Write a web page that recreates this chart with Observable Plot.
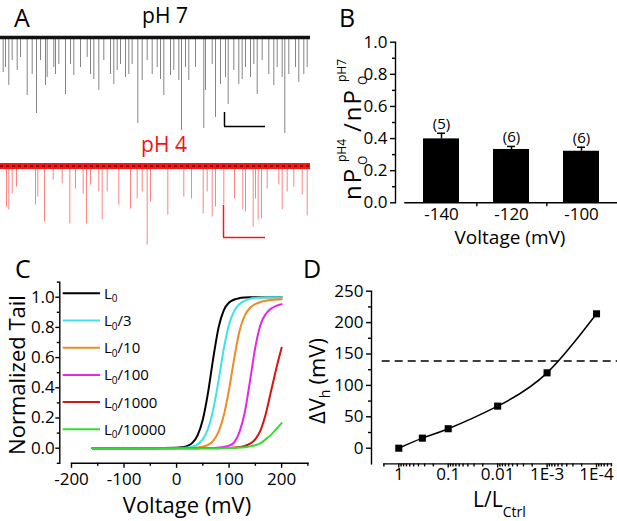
<!DOCTYPE html>
<html><head><meta charset="utf-8">
<script src="https://cdn.jsdelivr.net/npm/d3@7"></script>
<script src="https://cdn.jsdelivr.net/npm/@observablehq/plot@0.6"></script>
<style>
body{margin:0;background:#fff;}
#fig{position:relative;width:617px;height:521px;overflow:hidden;font-family:"Open Sans",sans-serif;background:#fff;}
</style></head><body><div id="fig"></div>
<script>
// ---------- Panel A: single-channel traces (time in ms, current in pA)
const t7 = [2.7,5,8.3,11.7,16.7,20,26.7,31.7,36,40,45,46.7,53.3,55,58.3,65,70,73.3,80,86.7,90,93.3,98.3,103.3,110,113.3,116.7,120,125,128.3,131.7,137.3,141.7,146.7,151.7,156.7,160,163.3,170,173.3,178.3,181,185,188.3,195,203.3,205,211.7,215,220,225,227.7,233.3,238.3,241.7,245,250,253.3,256.7,261.7,268.3,273.3,276.7,281.7,284.3,288.3,295,298.3,303.3,306.7];
const amp7 = [-35,-30,-48,-23,-33,-20,-58,-37,-76,-23,-48,-40,-30,-37,-27,-57,-27,-38,-30,-20,-37,-42,-53,-23,-37,-47,-33,-27,-40,-37,-27,-86,-43,-23,-37,-30,-42,-58,-38,-33,-43,-93,-30,-43,-30,-91,-53,-27,-80,-47,-40,-67,-33,-47,-42,-30,-40,-27,-57,-23,-37,-48,-30,-40,-96,-37,-30,-45,-37,-30];
const t4 = [6,8.3,11.7,16,35,37.3,44,52.7,61.7,69.3,75,82.7,86,90,98.3,101.7,106.7,118.3,130,136.7,141.7,146.7,150,167.3,183.3,191,202.7,206.7,211.7,215,223.3,234,242.3,245,252.7,255,257.7,261,266.7,278.3,281.7,286.7,293.3,301.7,306.7];
const amp4 = [-41,-44,-28,-21,-39,-31,-56,-14,-18,-58,-23,-28,-58,-19,-26,-54,-26,-39,-43,-33,-26,-79,-36,-49,-31,-33,-48,-26,-51,-41,-39,-33,-44,-46,-61,-33,-54,-53,-23,-19,-44,-26,-21,-29,-50];
const bar7 = {t0: 224, t1: 265, top: -75, bottom: -89};
const bar4 = {t0: 223, t1: 265, top: -39.5, bottom: -71.5};

// ---------- Panel B
const bVolt = ["-140", "-120", "-100"];
const bRatio = [0.398, 0.332, 0.321];
const bErr = [0.035, 0.019, 0.025];
const bN = [5, 6, 6];

// ---------- Panel C (normalized tail vs voltage)
const cVolt = [-160,-100,-50,0,10,20,30,40,50,60,70,80,90,100,110,120,130,140,150,160,170,180,190,200];
const cL0     = [0,0,0,0.003,0.006,0.014,0.035,0.085,0.19,0.37,0.6,0.8,0.915,0.965,0.985,0.994,0.998,1,1,1,1,1,1,1];
const cL0_3   = [0,0,0,0.001,0.002,0.004,0.01,0.025,0.06,0.13,0.26,0.45,0.66,0.82,0.91,0.955,0.978,0.99,0.995,0.998,1,1,1,1];
const cL0_10  = [0,0,0,0,0.001,0.001,0.002,0.005,0.01,0.022,0.05,0.11,0.22,0.39,0.6,0.78,0.88,0.93,0.955,0.968,0.976,0.981,0.984,0.986];
const cL0_100 = [0,0,0,0,0,0,0,0,0.001,0.001,0.002,0.004,0.008,0.017,0.04,0.11,0.24,0.45,0.67,0.82,0.89,0.925,0.943,0.953];
const cL0_1000 = [0,0,0,0,0,0,0,0,0,0,0,0,0.001,0.002,0.004,0.008,0.015,0.03,0.06,0.12,0.23,0.38,0.53,0.665];
const cL0_10000 = [0,0,0,0,0,0,0,0,0,0,0,0,0,0.001,0.002,0.004,0.007,0.012,0.02,0.034,0.06,0.09,0.127,0.166];
const cSeries = [cL0, cL0_3, cL0_10, cL0_100, cL0_1000, cL0_10000];
const cDivisor = ["", "/3", "/10", "/100", "/1000", "/10000"];
const cColors = ["#000000", "#3fe3e3", "#f08a24", "#e429e4", "#d8140e", "#33dd33"];

// ---------- Panel D
const dRatio = [1, 1/3, 0.1, 0.01, 0.001, 0.0001];
const dShift = [0, 16, 31, 67, 120, 214];
const dThreshold = 139;
const dTickValues = [1, 0.1, 0.01, 1e-3, 1e-4];
const dTickLabels = ["1", "0.1", "0.01", "1E-3", "1E-4"];

// ---------- helpers
const fig = document.getElementById("fig");
function put(node, left, top) {
  node.style.position = "absolute";
  node.style.left = left + "px";
  node.style.top = top + "px";
  node.style.maxWidth = "none";
  fig.appendChild(node);
}
const baseStyle = {fontFamily: "'Open Sans', sans-serif", fontSize: "17px", color: "black", background: "transparent", overflow: "visible"};
const AW = 1.4; // axis line width

// ---------- Panel A plots
const d7 = t7.map((t, i) => ({t, a: amp7[i]}));
const d4 = t4.map((t, i) => ({t, a: amp4[i]}));
put(Plot.plot({
  width: 310, height: 110, margin: 0, style: baseStyle,
  x: {domain: [0, 310], axis: null}, y: {domain: [-101, 9], axis: null},
  marks: [
    Plot.ruleX(d7, {x: "t", y1: () => 0, y2: "a", stroke: "#333", strokeOpacity: 0.6, strokeWidth: 1}),
    Plot.ruleY([0], {stroke: "#111", strokeWidth: 3.5}),
    Plot.ruleX([bar7], {x: "t0", y1: "top", y2: "bottom", stroke: "black", strokeWidth: 1.5}),
    Plot.ruleY([bar7], {y: "bottom", x1: "t0", x2: "t1", stroke: "black", strokeWidth: 1.5})
  ]
}), 0, 28);
put(Plot.plot({
  width: 310, height: 90, margin: 0, style: baseStyle,
  x: {domain: [0, 310], axis: null}, y: {domain: [-79.5, 10.5], axis: null},
  marks: [
    Plot.ruleX(d4, {x: "t", y1: () => 0, y2: "a", stroke: "#ff3030", strokeOpacity: 0.6, strokeWidth: 1}),
    Plot.ruleY([0], {stroke: "#ff1414", strokeWidth: 6}),
    Plot.ruleY([0], {stroke: "#000", strokeWidth: 1.2, strokeDasharray: "3,3"}),
    Plot.ruleX([bar4], {x: "t0", y1: "top", y2: "bottom", stroke: "#ff1414", strokeWidth: 1.5}),
    Plot.ruleY([bar4], {y: "bottom", x1: "t0", x2: "t1", stroke: "#ff1414", strokeWidth: 1.5})
  ]
}), 0, 155);

// ---------- Panel B plot
const bData = bVolt.map((v, i) => ({v, r: bRatio[i], e: bErr[i], n: bN[i]}));
const bW = 287, bML = 74.5, bMR = 0.5;
const bStep = (bW - bML - bMR) / bVolt.length;
put(Plot.plot({
  width: bW, height: 205, marginLeft: bML, marginRight: bMR, marginTop: 11.7, marginBottom: 32.7,
  style: baseStyle,
  x: {type: "band", domain: bVolt, paddingInner: 0.49, paddingOuter: 0.245},
  y: {domain: [0, 1]},
  marks: [
    Plot.barY(bData, {x: "v", y: "r", fill: "black"}),
    Plot.ruleX(bData, {x: "v", y1: "r", y2: d => d.r + d.e, strokeWidth: 1.5}),
    Plot.tickY(bData, {x: "v", y: d => d.r + d.e, insetLeft: 14, insetRight: 14, strokeWidth: 1.5}),
    Plot.text(bData, {x: "v", y: d => d.r + d.e, text: d => `(${d.n})`, dy: -4, lineAnchor: "bottom", fontSize: 15}),
    Plot.frame({anchor: "left", dx: -9.5, strokeWidth: AW}),
    Plot.frame({anchor: "bottom", strokeWidth: AW}),
    Plot.axisY({ticks: [0, 0.2, 0.4, 0.6, 0.8, 1], tickFormat: d3.format(".1f"), tickSize: 5, tickPadding: 3, dx: -9.5, label: null, strokeWidth: AW}),
    Plot.axisY({ticks: [0.1, 0.3, 0.5, 0.7, 0.9], tickSize: 3, text: null, dx: -9.5, label: null, strokeWidth: AW}),
    Plot.axisX({tickSize: 0, tickPadding: 5, label: null}),
    Plot.axisX({ticks: bVolt.slice(0, 2), tickSize: 4, text: null, dx: bStep / 2, label: null, strokeWidth: AW})
  ]
}), 330, 30);

// ---------- Panel C plot
const cData = cSeries.flatMap((s, k) => s.map((val, i) => ({V: cVolt[i], val, k})));
put(Plot.plot({
  width: 320, height: 251, marginLeft: 71, marginRight: 12.6, marginTop: 11.6, marginBottom: 58.2,
  style: baseStyle,
  x: {domain: [-200, 250]},
  y: {domain: [-0.1, 1.1]},
  marks: [
    ...cSeries.map((s, k) => Plot.line(cData.filter(d => d.k === k), {x: "V", y: "val", stroke: cColors[k], strokeWidth: 2, curve: "monotone-x"})),
    Plot.frame({anchor: "left", dx: -11.7, strokeWidth: AW}),
    Plot.frame({anchor: "bottom", strokeWidth: AW}),
    Plot.axisY({ticks: [0, 0.2, 0.4, 0.6, 0.8, 1], tickFormat: d3.format(".1f"), tickSize: 4, tickPadding: 1, dx: -11.7, label: null, strokeWidth: AW}),
    Plot.axisY({ticks: [-0.1, 0.1, 0.3, 0.5, 0.7, 0.9, 1.1], tickSize: 2.5, text: null, dx: -11.7, label: null, strokeWidth: AW}),
    Plot.axisX({ticks: [-200, -100, 0, 100, 200], tickFormat: d => String(d), tickSize: 5, tickPadding: 5, label: null, strokeWidth: AW}),
    Plot.axisX({ticks: [-150, -50, 50, 150, 250], tickSize: 3, text: null, label: null, strokeWidth: AW})
  ]
}), 0, 270);

// ---------- Panel D plot
const dData = dRatio.map((r, i) => ({r, s: dShift[i]}));
const dMinor = [];
for (let e = 0; e >= -5; e--) for (let m = 2; m <= 9; m++) {
  const v = m * Math.pow(10, e);
  if (v <= 2 && v >= 5e-5) dMinor.push(v);
}
put(Plot.plot({
  width: 317, height: 251, marginLeft: 83.4, marginRight: 6.1, marginTop: 20.7, marginBottom: 57.6,
  style: baseStyle,
  x: {type: "log", domain: [2, 5e-5]},
  y: {domain: [-25, 250]},
  marks: [
    Plot.ruleY([dThreshold], {stroke: "black", strokeWidth: 1.5, strokeDasharray: "8,5", insetLeft: -1.7, insetRight: -6.1}),
    Plot.line(dData, {x: "r", y: "s", stroke: "black", strokeWidth: 1.5, curve: "natural"}),
    Plot.dot(dData, {x: "r", y: "s", symbol: "square", r: 4, fill: "black"}),
    Plot.frame({anchor: "left", dx: -12.4, strokeWidth: AW}),
    Plot.frame({anchor: "bottom", strokeWidth: AW}),
    Plot.axisY({ticks: [0, 50, 100, 150, 200, 250], tickFormat: d => String(d), tickSize: 5, tickPadding: 3, dx: -12.4, label: null, strokeWidth: AW}),
    Plot.axisY({ticks: [25, 75, 125, 175, 225], tickSize: 3, text: null, dx: -12.4, label: null, strokeWidth: AW}),
    Plot.axisX({ticks: dTickValues, tickFormat: d => dTickLabels[dTickValues.indexOf(d)], tickSize: 4, tickPadding: 0, label: null, strokeWidth: AW}),
    Plot.axisX({ticks: dMinor, tickSize: 3, text: null, label: null, strokeWidth: AW})
  ]
}), 300, 270);

// ---------- Overlay: panel letters, titles, legend
const legendY0 = 293.3, legendStep = 27.2;
const legend = cColors.map((c, k) => {
  const y = legendY0 + k * legendStep;
  return `<line x1="62.7" x2="100" y1="${y}" y2="${y}" stroke="${c}" stroke-width="2"/>
  <text x="104" y="${y + 5.5}" font-size="15">L<tspan dy="3.5" font-size="10">0</tspan><tspan dy="-3.5">${cDivisor[k]}</tspan></text>`;
}).join("");
const ov = document.createElement("div");
ov.innerHTML = `<svg width="617" height="521" style="position:absolute;left:0;top:0;font-family:'Open Sans',sans-serif;overflow:visible">
<text x="14" y="27" font-size="25">A</text>
<text x="165" y="23" font-size="21" text-anchor="middle">pH 7</text>
<text x="164" y="152" font-size="21" text-anchor="middle" fill="#f01414">pH 4</text>
<text x="339" y="27" font-size="25">B</text>
<text x="15" y="278" font-size="25">C</text>
<text x="303" y="278" font-size="25">D</text>
<text x="510" y="244" font-size="19" text-anchor="middle">Voltage (mV)</text>
<text transform="translate(361,0) rotate(-90)" font-size="24" letter-spacing="2">
  <tspan x="-200" y="0">nP</tspan><tspan x="-165" y="6" font-size="12" letter-spacing="0">O</tspan><tspan x="-162" y="-15" font-size="12" letter-spacing="0">pH4</tspan><tspan x="-132" y="0">/nP</tspan><tspan x="-85" y="6" font-size="12" letter-spacing="0">O</tspan><tspan x="-82" y="-15" font-size="12" letter-spacing="0">pH7</tspan>
</text>
<text transform="translate(25,375) rotate(-90)" font-size="22" text-anchor="middle">Normalized Tail</text>
<text x="187" y="513" font-size="22" text-anchor="middle">Voltage (mV)</text>
<text transform="translate(325,0) rotate(-90)" font-size="22"><tspan x="-424" y="0">ΔV</tspan><tspan dy="5" font-size="14">h</tspan><tspan dy="-5" dx="5">(mV)</tspan></text>
<text x="473" y="507" font-size="21">L/L<tspan dy="10" font-size="14">Ctrl</tspan></text>
${legend}
</svg>`;
fig.appendChild(ov.firstElementChild);
</script></body></html>
